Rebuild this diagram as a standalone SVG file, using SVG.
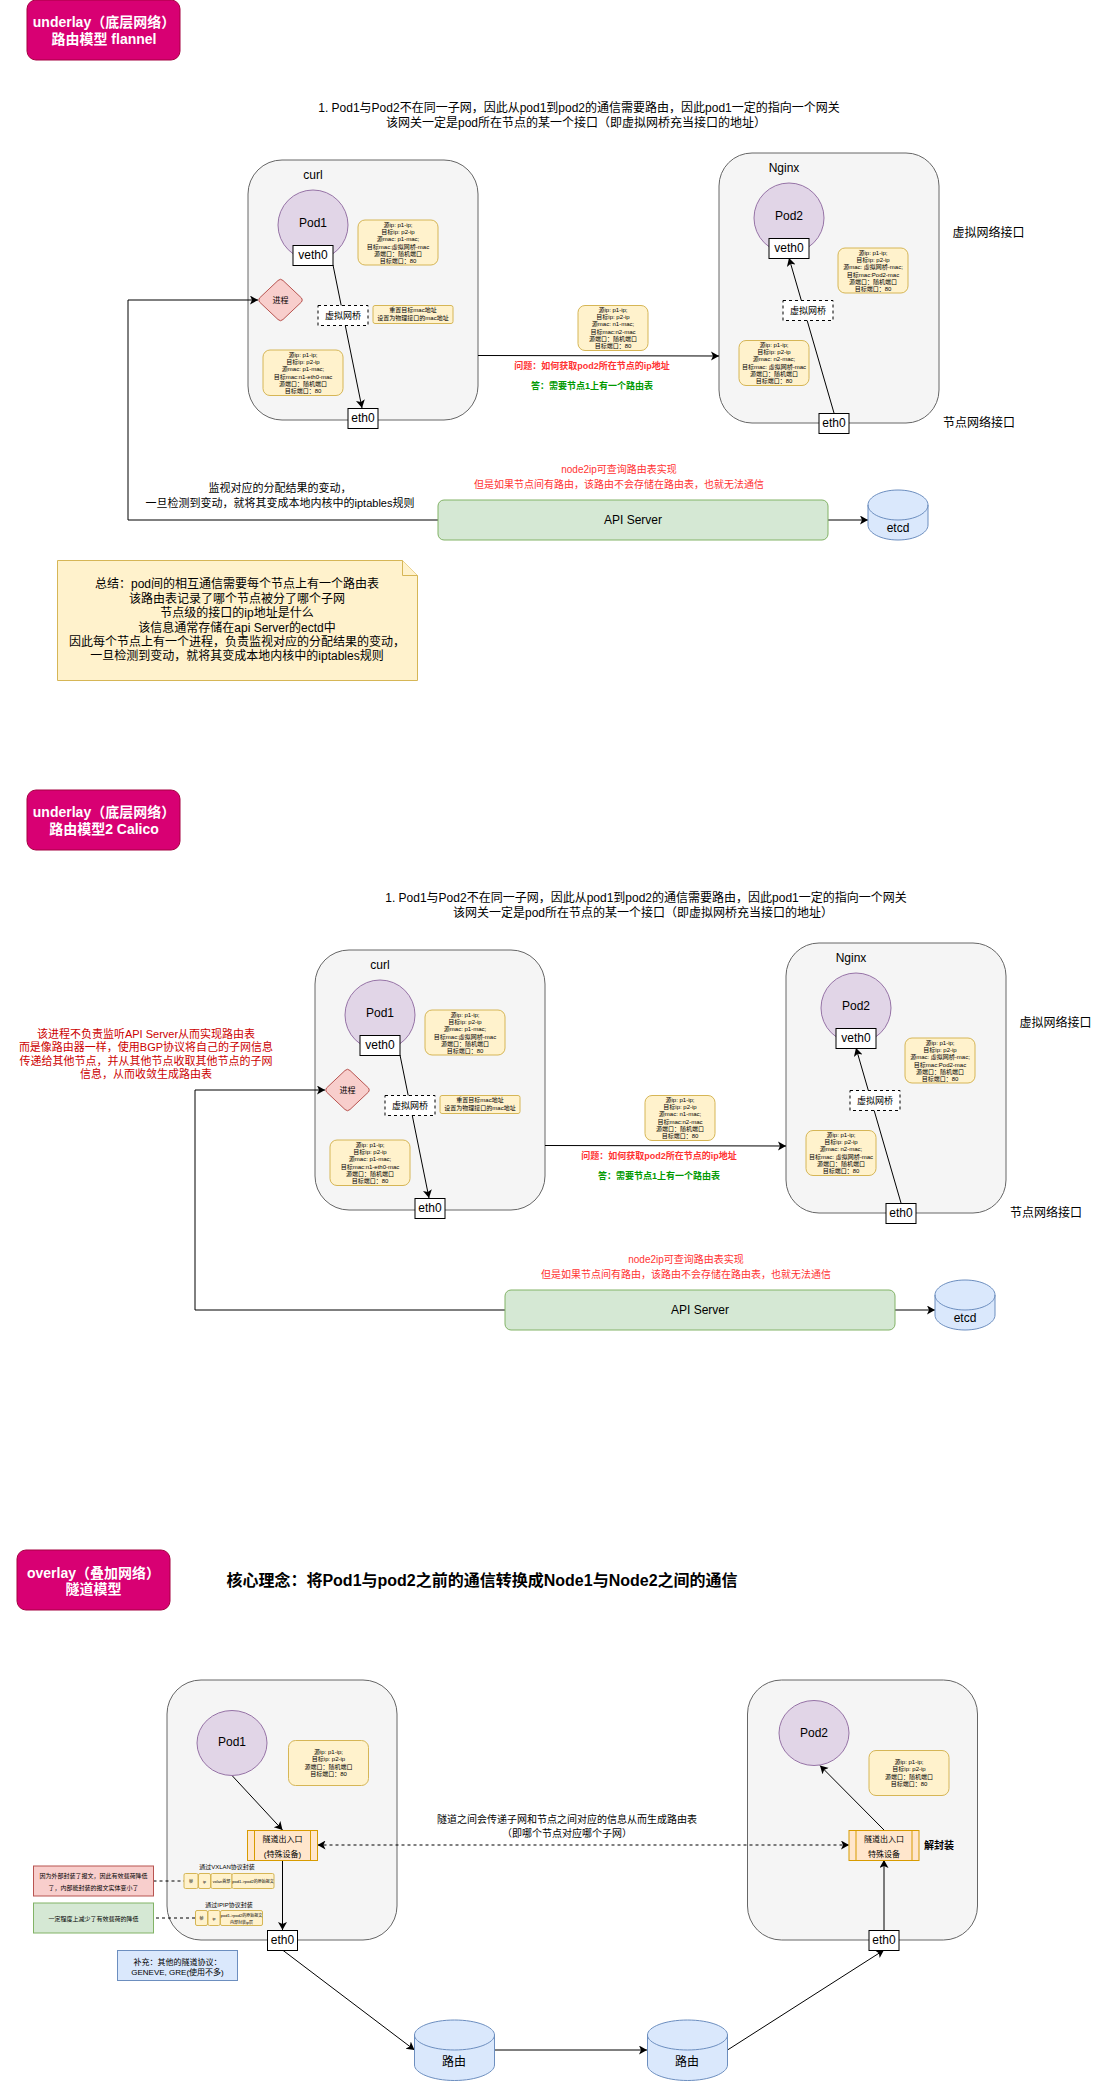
<svg xmlns="http://www.w3.org/2000/svg" xmlns:xlink="http://www.w3.org/1999/xlink" width="1096" height="2081" viewBox="0 0 1096 2081">
<style>
text{font-family:"Liberation Sans","Noto Sans CJK SC",sans-serif;text-anchor:middle;dominant-baseline:central;fill:#000}
.t{fill:#d80073;stroke:#a50040}
.tt{font-size:14px;font-weight:bold;fill:#fff}
.node{fill:#f5f5f5;stroke:#666}
.pod{fill:#e1d5e7;stroke:#9673a6}
.w{fill:#fff;stroke:#000}
.br{fill:#fff;stroke:#000;stroke-dasharray:3 3}
.i{fill:#fff2cc;stroke:#d6b656}
.f6{font-size:6px}.f8{font-size:8px}.f9{font-size:9px}.f10{font-size:10px}.f11{font-size:11px}.f12{font-size:12px}
.f4{font-size:4px}
.b{font-weight:bold}
.red{fill:#ff3333}.grn{fill:#009900}.dr{fill:#cc0000}
.g{fill:#d5e8d4;stroke:#82b366}
.c{fill:#dae8fc;stroke:#6c8ebf}
.r{fill:#f8cecc;stroke:#b85450}
.o{fill:#ffe6cc;stroke:#d79b00}
.n{fill:#fff2cc;stroke:#d6b656}
.l{fill:none;stroke:#000;stroke-width:1}
.a{marker-end:url(#ar)}
.d{stroke-dasharray:3 3}
</style>
<defs>
<marker id="ar" markerUnits="userSpaceOnUse" markerWidth="12" markerHeight="12" refX="8" refY="4.5" orient="auto"><path d="M0 0L8 4.5L0 9L2 4.5Z" fill="#000"/></marker>
<marker id="as" markerUnits="userSpaceOnUse" markerWidth="12" markerHeight="12" refX="0" refY="4.5" orient="auto"><path d="M8 0L0 4.5L8 9L6 4.5Z" fill="#000"/></marker>
<g id="underlay-sec">
<rect class="node" x="248" y="160" width="230" height="260" rx="34" ry="34"/>
<text class="f12" x="313" y="175">curl</text>
<rect class="node" x="719" y="153" width="220" height="270" rx="33" ry="33"/>
<text class="f12" x="784" y="168">Nginx</text>
<path class="l a" d="M333 265L362 408"/>
<path class="l a" d="M834 413L789 258"/>
<path class="l a" d="M478 355.500L719 356"/>
<path class="l a" d="M438 520H128V300H258"/>
<path class="l a" d="M828 520H868"/>
<circle class="pod" cx="313" cy="225" r="35"/>
<text class="f12" x="313" y="223">Pod1</text>
<rect class="w" x="293" y="245.500" width="40" height="20"/>
<text class="f12" x="313" y="255">veth0</text>
<rect class="i" x="358" y="220" width="80" height="45" rx="7"/>
<text class="f6"><tspan x="398" y="225">源ip: p1-ip;</tspan><tspan x="398" y="232">目标ip: p2-ip</tspan><tspan x="398" y="239">源mac: p1-mac;</tspan><tspan x="398" y="247">目标mac:虚拟网桥-mac</tspan><tspan x="398" y="254">源端口：随机端口</tspan><tspan x="398" y="261">目标端口：80</tspan></text>
<path class="r" d="M278 280.500Q280.500 278 283 280.500L301.500 298Q303 300 301.500 302L283 319.500Q280.500 322 278 319.500L259.500 302Q258 300 259.500 298Z"/>
<text class="f8" x="280.500" y="300">进程</text>
<rect class="br" x="318" y="305.500" width="50" height="20"/>
<text class="f9" x="343" y="315.500">虚拟网桥</text>
<rect class="i" x="373" y="305.500" width="80" height="18" rx="2"/>
<text class="f6"><tspan x="413" y="310">重置目标mac地址</tspan><tspan x="413" y="318">设置为物理接口的mac地址</tspan></text>
<rect class="i" x="263" y="350" width="80" height="45.500" rx="7"/>
<text class="f6"><tspan x="303" y="355">源ip: p1-ip;</tspan><tspan x="303" y="362">目标ip: p2-ip</tspan><tspan x="303" y="369">源mac: p1-mac;</tspan><tspan x="303" y="377">目标mac:n1-eth0-mac</tspan><tspan x="303" y="384">源端口：随机端口</tspan><tspan x="303" y="391">目标端口：80</tspan></text>
<rect class="w" x="348" y="408.500" width="30" height="20"/>
<text class="f12" x="363" y="418">eth0</text>
<rect class="i" x="578" y="305.500" width="70" height="45" rx="7"/>
<text class="f6"><tspan x="613" y="310">源ip: p1-ip;</tspan><tspan x="613" y="317">目标ip: p2-ip</tspan><tspan x="613" y="324">源mac: n1-mac;</tspan><tspan x="613" y="332">目标mac:n2-mac</tspan><tspan x="613" y="339">源端口：随机端口</tspan><tspan x="613" y="346">目标端口：80</tspan></text>
<text class="f9 b red" x="592" y="366">问题：如何获取pod2所在节点的ip地址</text>
<text class="f9 b grn" x="592" y="386">答：需要节点1上有一个路由表</text>
<circle class="pod" cx="789" cy="218" r="35"/>
<text class="f12" x="789" y="216">Pod2</text>
<rect class="w" x="769" y="238.500" width="40" height="20"/>
<text class="f12" x="789" y="248">veth0</text>
<rect class="i" x="838" y="248" width="70" height="45" rx="7"/>
<text class="f6"><tspan x="873" y="253">源ip: p1-ip;</tspan><tspan x="873" y="260">目标ip: p2-ip</tspan><tspan x="873" y="267">源mac: 虚拟网桥-mac;</tspan><tspan x="873" y="275">目标mac:Pod2-mac</tspan><tspan x="873" y="282">源端口：随机端口</tspan><tspan x="873" y="289">目标端口：80</tspan></text>
<rect class="br" x="783" y="300.500" width="50" height="20"/>
<text class="f9" x="808" y="310.500">虚拟网桥</text>
<rect class="i" x="739" y="340.500" width="70" height="45" rx="7"/>
<text class="f6"><tspan x="774" y="345">源ip: p1-ip;</tspan><tspan x="774" y="352">目标ip: p2-ip</tspan><tspan x="774" y="359">源mac: n2-mac;</tspan><tspan x="774" y="367">目标mac: 虚拟网桥-mac</tspan><tspan x="774" y="374">源端口：随机端口</tspan><tspan x="774" y="381">目标端口：80</tspan></text>
<rect class="w" x="819" y="413.500" width="30" height="20"/>
<text class="f12" x="834" y="423">eth0</text>
<text class="f12" x="988.500" y="232.500">虚拟网络接口</text>
<text class="f12" x="979" y="422.500">节点网络接口</text>
<text class="f10 red"><tspan x="619" y="469">node2ip可查询路由表实现</tspan><tspan x="619" y="484">但是如果节点间有路由，该路由不会存储在路由表，也就无法通信</tspan></text>
<rect class="g" x="438" y="500" width="390" height="40" rx="6"/>
<text class="f12" x="633" y="519.500">API Server</text>
<path class="c" d="M868 505C868 497 881 490 898 490C915 490 928 497 928 505V525C928 533 915 540 898 540C881 540 868 533 868 525Z"/>
<path class="l" style="stroke:#6c8ebf" d="M868 505C868 513 881 520 898 520C915 520 928 513 928 505"/>
<text class="f12" x="898" y="528">etcd</text>
</g>
</defs>
<g id="section1-title"><rect class="t" x="27" y="0" width="153" height="60" rx="9"/><text class="tt"><tspan x="104" y="22">underlay（底层网络）</tspan><tspan x="104" y="39">路由模型 flannel</tspan></text></g>
<text class="f12"><tspan x="579" y="107.500">1. Pod1与Pod2不在同一子网，因此从pod1到pod2的通信需要路由，因此pod1一定的指向一个网关</tspan><tspan x="576" y="122.500">该网关一定是pod所在节点的某一个接口（即虚拟网桥充当接口的地址）</tspan></text>
<g id="section1"><use href="#underlay-sec" xlink:href="#underlay-sec"/></g>
<text class="f11"><tspan x="280" y="488">监视对应的分配结果的变动，</tspan><tspan x="280" y="503">一旦检测到变动，就将其变成本地内核中的iptables规则</tspan></text>
<g id="summary-note"><path class="n" d="M57.500 560.500H402.500L417.500 575.500V680.500H57.500Z"/><path class="n" d="M402.500 560.500V575.500H417.500"/>
<text class="f12"><tspan x="237" y="584">总结：pod间的相互通信需要每个节点上有一个路由表</tspan><tspan x="237" y="599">该路由表记录了哪个节点被分了哪个子网</tspan><tspan x="237" y="613">节点级的接口的ip地址是什么</tspan><tspan x="237" y="628">该信息通常存储在api Server的ectd中</tspan><tspan x="237" y="642">因此每个节点上有一个进程，负责监视对应的分配结果的变动，</tspan><tspan x="237" y="656">一旦检测到变动，就将其变成本地内核中的iptables规则</tspan></text></g>
<g id="section2-title"><rect class="t" x="27" y="790" width="153" height="60" rx="9"/><text class="tt"><tspan x="104" y="812">underlay（底层网络）</tspan><tspan x="104" y="829">路由模型2 Calico</tspan></text></g>
<text class="f12"><tspan x="646" y="897.500">1. Pod1与Pod2不在同一子网，因此从pod1到pod2的通信需要路由，因此pod1一定的指向一个网关</tspan><tspan x="643" y="912.500">该网关一定是pod所在节点的某一个接口（即虚拟网桥充当接口的地址）</tspan></text>
<g id="section2"><use href="#underlay-sec" xlink:href="#underlay-sec" transform="translate(67 790)"/></g>
<text class="f11 dr"><tspan x="146" y="1034">该进程不负责监听API Server从而实现路由表</tspan><tspan x="146" y="1047">而是像路由器一样，使用BGP协议将自己的子网信息</tspan><tspan x="146" y="1061">传递给其他节点，并从其他节点收取其他节点的子网</tspan><tspan x="146" y="1074">信息，从而收敛生成路由表</tspan></text>
<g id="section3-title"><rect class="t" x="17" y="1550" width="153" height="60" rx="9"/><text class="tt"><tspan x="93.500" y="1572.500">overlay（叠加网络）</tspan><tspan x="93.500" y="1589">隧道模型</tspan></text></g>
<text class="b" style="font-size:16px" x="482" y="1580">核心理念：将Pod1与pod2之前的通信转换成Node1与Node2之间的通信</text>
<g id="node-left"><rect class="node" x="167" y="1680" width="230" height="260" rx="34"/></g>
<g id="node-right"><rect class="node" x="747.500" y="1680" width="230" height="260" rx="34"/></g>
<g id="connectors">
<path class="l a" d="M232 1775.500L282.500 1830"/>
<path class="l a" d="M282.500 1860V1930"/>
<path class="l a" d="M282.500 1950L414.500 2050"/>
<path class="l a" d="M494.500 2050H647"/>
<path class="l a" d="M727.500 2050L884 1950"/>
<path class="l a" d="M884 1930V1860"/>
<path class="l a" d="M884 1830L820 1765.500"/>
<path class="l d a" style="marker-start:url(#as)" d="M317.500 1845H849"/>
<path class="l d" d="M153.500 1881H184"/>
<path class="l d" d="M156 1918H195.500"/>
</g>
<g id="pod1-o"><ellipse class="pod" cx="232" cy="1743" rx="35" ry="32.500"/><text class="f12" x="232" y="1742">Pod1</text></g>
<g id="pod2-o"><ellipse class="pod" cx="814" cy="1733" rx="35" ry="32.500"/><text class="f12" x="814" y="1733">Pod2</text></g>
<g id="info-o1"><rect class="i" x="288.500" y="1740.500" width="80" height="45" rx="7"/><text class="f6"><tspan x="328.500" y="1752">源ip: p1-ip;</tspan><tspan x="328.500" y="1759">目标ip: p2-ip</tspan><tspan x="328.500" y="1766.500">源端口：随机端口</tspan><tspan x="328.500" y="1774">目标端口：80</tspan></text></g>
<g id="info-o2"><rect class="i" x="869" y="1750.500" width="80" height="45" rx="7"/><text class="f6"><tspan x="909" y="1762">源ip: p1-ip;</tspan><tspan x="909" y="1769">目标ip: p2-ip</tspan><tspan x="909" y="1776.500">源端口：随机端口</tspan><tspan x="909" y="1784">目标端口：80</tspan></text></g>
<g id="tunnel-l"><rect class="o" x="247.500" y="1830.500" width="70" height="30"/><path class="l" style="stroke:#d79b00" d="M254.500 1830.500V1860.500M310.500 1830.500V1860.500"/><text class="f8"><tspan x="282.500" y="1839">隧道出入口</tspan><tspan x="282.500" y="1854">(特殊设备)</tspan></text></g>
<g id="tunnel-r"><rect class="o" x="849" y="1830.500" width="70" height="30"/><path class="l" style="stroke:#d79b00" d="M856 1830.500V1860.500M912 1830.500V1860.500"/><text class="f8"><tspan x="884" y="1839">隧道出入口</tspan><tspan x="884" y="1854">特殊设备</tspan></text></g>
<text class="f10 b" x="939" y="1845.500">解封装</text>
<text class="f10"><tspan x="567" y="1819">隧道之间会传递子网和节点之间对应的信息从而生成路由表</tspan><tspan x="567" y="1833">（即哪个节点对应哪个子网）</tspan></text>
<g id="eth0-l"><rect class="w" x="267.500" y="1930.500" width="30" height="20"/><text class="f12" x="282.500" y="1940">eth0</text></g>
<g id="eth0-r"><rect class="w" x="869" y="1930.500" width="30" height="20"/><text class="f12" x="884" y="1940">eth0</text></g>
<g id="router1"><path class="c" d="M414.500 2035C414.500 2027 432 2020 454.500 2020C477 2020 494.500 2027 494.500 2035V2065C494.500 2073 477 2080.500 454.500 2080.500C432 2080.500 414.500 2073 414.500 2065Z"/><path class="l" style="stroke:#6c8ebf" d="M414.500 2035C414.500 2043 432 2050 454.500 2050C477 2050 494.500 2043 494.500 2035"/><text class="f12" x="454" y="2062">路由</text></g>
<g id="router2"><path class="c" d="M647.500 2035C647.500 2027 665 2020 687.500 2020C710 2020 727.500 2027 727.500 2035V2065C727.500 2073 710 2080.500 687.500 2080.500C665 2080.500 647.500 2073 647.500 2065Z"/><path class="l" style="stroke:#6c8ebf" d="M647.500 2035C647.500 2043 665 2050 687.500 2050C710 2050 727.500 2043 727.500 2035"/><text class="f12" x="687" y="2062">路由</text></g>
<g id="vxlan">
<text class="f6" x="227" y="1867">通过VXLAN协议封装</text>
<rect class="i" x="184" y="1873.500" width="14" height="15" rx="1.500"/><rect class="i" x="198.500" y="1873.500" width="12" height="15" rx="1.500"/><rect class="i" x="211" y="1873.500" width="21" height="15" rx="1.500"/><rect class="i" x="232" y="1873.500" width="42" height="15" rx="1.500"/>
<text class="f4" x="191" y="1881">帧</text><text class="f4" x="204.500" y="1881">ip</text><text class="f4" x="221.500" y="1881">vxlan首部</text><text class="f4" x="253" y="1881">pod1-&gt;pod2的原始报文</text>
</g>
<g id="ipip">
<text class="f6" x="229" y="1905">通过IPIP协议封装</text>
<rect class="i" x="195.500" y="1910.500" width="12" height="15" rx="1.500"/><rect class="i" x="208" y="1910.500" width="12" height="15" rx="1.500"/><rect class="i" x="220.500" y="1910.500" width="42" height="15" rx="1.500"/>
<text class="f4" x="201.500" y="1918">帧</text><text class="f4" x="214" y="1918">ip</text><text class="f4"><tspan x="241.500" y="1915">pod1-&gt;pod2的原始报文</tspan><tspan x="241.500" y="1922">内部封装ip层</tspan></text>
</g>
<g id="note-red"><rect class="r" x="33.500" y="1866" width="120" height="30"/><text class="f6"><tspan x="93.500" y="1876">因为外部封装了报文，因此有效载荷降低</tspan><tspan x="93.500" y="1888">了，内部能封装的报文实体变小了</tspan></text></g>
<g id="note-green"><rect class="g" x="33.500" y="1903" width="120" height="30"/><text class="f6" x="93.500" y="1919">一定程度上减少了有效载荷的降低</text></g>
<g id="note-blue"><rect class="c" x="117.500" y="1950.500" width="120" height="30"/><text class="f8"><tspan x="177.500" y="1962">补充：其他的隧道协议：</tspan><tspan x="177.500" y="1972">GENEVE, GRE(使用不多)</tspan></text></g>
</svg>
